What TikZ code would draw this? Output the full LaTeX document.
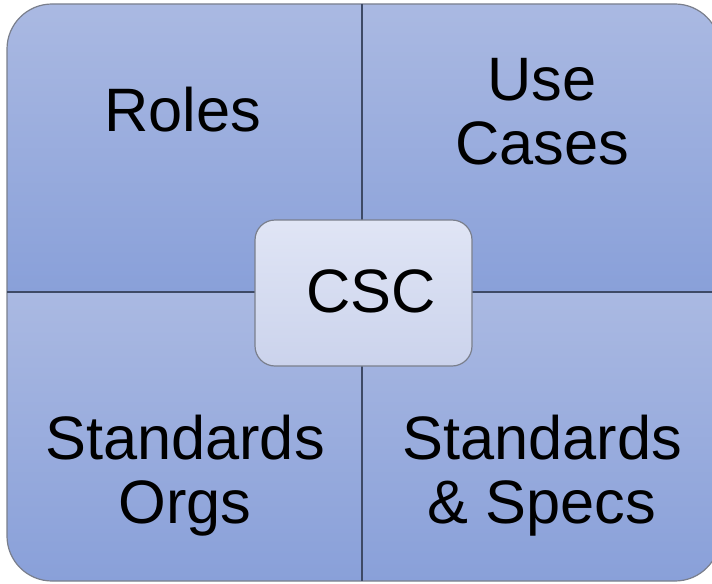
\documentclass[tikz,border=0pt]{standalone}
\usepackage{fontspec}
\setmainfont{Liberation Sans}
\definecolor{qtop}{HTML}{AAB9E2}
\definecolor{qbot}{HTML}{89A0D9}
\definecolor{ctop}{HTML}{E0E5F5}
\definecolor{cbot}{HTML}{CBD3EC}
\definecolor{divline}{HTML}{3E4A66}
\definecolor{rimline}{HTML}{7A7F8C}
\tikzset{
  quad/.style={top color=qtop, bottom color=qbot, draw=none},
  lbl/.style={font=\fontsize{46}{47.5}\selectfont, align=center, inner sep=0pt, anchor=base, text=black},
  centerbox/.style={draw=rimline, line width=0.9pt, top color=ctop, bottom color=cbot,
     rounded corners=15pt, minimum width=162.75pt, minimum height=109.5pt, inner sep=0pt}
}
\begin{document}
\begin{tikzpicture}[x=0.75pt,y=0.75pt]
\useasboundingbox (0,0) rectangle (712,583);
\begin{scope}
  \clip[rounded corners=33.75pt] (7,2) rectangle (720,579);
  \shade[quad] (7,291) rectangle (362,579);
  \shade[quad] (362,291) rectangle (720,579);
  \shade[quad] (7,2) rectangle (362,291);
  \shade[quad] (362,2) rectangle (720,291);
\end{scope}
\draw[rimline, line width=0.9pt, rounded corners=33.75pt] (7,2) rectangle (720,579);
\coordinate (vt) at (362,579);
\coordinate (vb) at (362,2);
\coordinate (hl) at (7,291);
\coordinate (hr) at (720,291);
\draw[divline, line width=1.1pt] (vt) -- (vb);
\draw[divline, line width=1.1pt] (hl) -- (hr);
\node[centerbox] (csc) at (363.5,290) {};
\node[lbl] (csctext) at (371,271) {CSC};
\node[lbl] (roles) at (183,451) {Roles};
\node[lbl] (usecases) at (542,419) {Use\\Cases};
\node[lbl] (orgs) at (185,60) {Standards\\Orgs};
\node[lbl] (specs) at (542,60) {Standards\\\& Specs};
\end{tikzpicture}
\end{document}
